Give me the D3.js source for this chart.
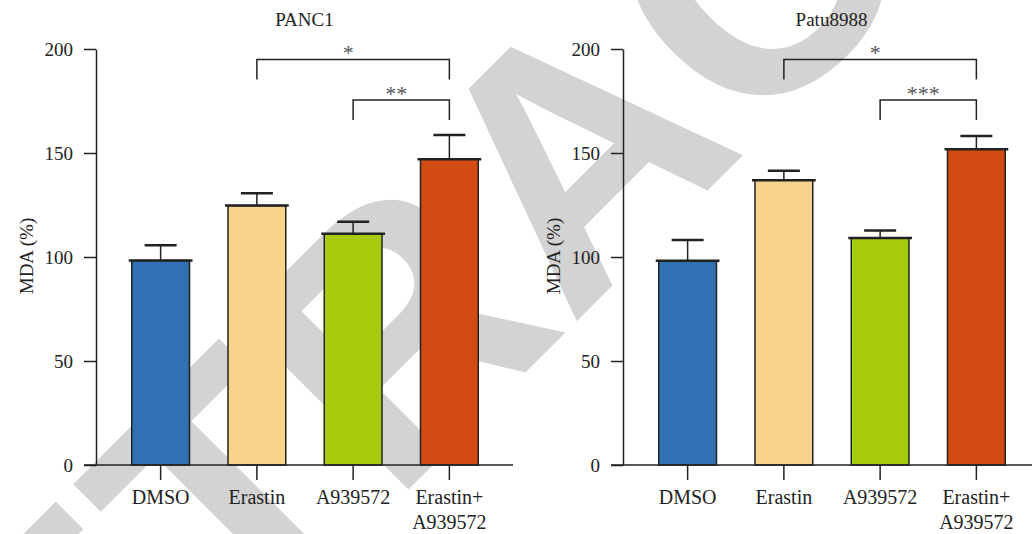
<!DOCTYPE html>
<html>
<head>
<meta charset="utf-8">
<script src="https://cdn.jsdelivr.net/npm/d3@7"></script>
<style>
  body { margin: 0; background: #fff; }
</style>
</head>
<body>
<div id="container"></div>
<script>
// group labels (second line for the combo group)
var categories = [["DMSO"], ["Erastin"], ["A939572"], ["Erastin+", "A939572"]];
var barColors = ["#3071b4", "#f8d38b", "#a6cb0d", "#d34b12"];
var yTicks = [0, 50, 100, 150, 200];

var panc1Mean = [98.3, 124.7, 111.2, 147.0];
var panc1Err = [7.3, 5.9, 5.7, 11.7];
var patuMean = [98.2, 136.9, 109.1, 151.8];
var patuErr = [10.0, 4.6, 3.7, 6.4];

// brackets: from group, to group, height (MDA units), label
var panc1Sig = [[1, 3, 195, "*"], [2, 3, 175.5, "**"]];
var patuSig = [[1, 3, 195, "*"], [2, 3, 175.5, "***"]];

var panels = [
  { title: "PANC1", mean: panc1Mean, err: panc1Err, sig: panc1Sig, x0: 96 },
  { title: "Patu8988", mean: patuMean, err: patuErr, sig: patuSig, x0: 623 }
];

var width = 1032, height = 534;
var ink = "#222";
var serif = "'Liberation Serif', 'DejaVu Serif', serif";

var svg = d3.select("#container").append("svg")
  .attr("width", width)
  .attr("height", height);

// watermark sits behind everything
svg.append("text")
  .attr("transform", "translate(660,238) rotate(-45)")
  .attr("text-anchor", "middle")
  .style("font-family", "'Liberation Sans', Arial, sans-serif")
  .style("font-weight", "bold")
  .style("font-size", "350px")
  .style("fill", "#d3d3d3")
  .text("RETRACTED");

var y = d3.scaleLinear().domain([0, 200]).range([465, 49]);

panels.forEach(function(p) {
  var g = svg.append("g");
  var x = d3.scaleBand()
    .domain(d3.range(categories.length))
    .range([p.x0 + 16.5, p.x0 + 401.5])
    .paddingInner(0.4)
    .paddingOuter(0.2);

  // title
  g.append("text")
    .attr("x", p.x0 + 208.5)
    .attr("y", 26)
    .attr("text-anchor", "middle")
    .style("font-family", serif)
    .style("font-size", "19px")
    .style("fill", ink)
    .text(p.title);

  // y axis
  var yAxis = g.append("g")
    .attr("transform", "translate(" + p.x0 + ",0)")
    .call(d3.axisLeft(y).tickValues(yTicks).tickSize(12).tickSizeOuter(0).tickPadding(11));
  yAxis.select(".domain").attr("stroke", ink).attr("stroke-width", 1.5);
  yAxis.selectAll(".tick line").attr("stroke", ink).attr("stroke-width", 1.5);
  yAxis.selectAll(".tick text")
    .style("font-size", "19px")
    .style("font-family", serif)
    .attr("fill", ink);

  g.append("text")
    .attr("transform", "translate(" + (p.x0 - 63) + ",256) rotate(-90)")
    .attr("text-anchor", "middle")
    .style("font-family", serif)
    .style("font-size", "19px")
    .style("fill", ink)
    .text("MDA (%)");

  // bars
  var bars = g.selectAll(".bar").data(p.mean).enter().append("g");
  bars.append("rect")
    .attr("x", function(d, i) { return x(i); })
    .attr("y", function(d) { return y(d); })
    .attr("width", x.bandwidth())
    .attr("height", function(d) { return y(0) - y(d); })
    .attr("fill", function(d, i) { return barColors[i]; })
    .attr("stroke", ink)
    .attr("stroke-width", 1.5);
  bars.append("line")
    .attr("x1", function(d, i) { return x(i) - 3; })
    .attr("x2", function(d, i) { return x(i) + x.bandwidth() + 3; })
    .attr("y1", function(d) { return y(d); })
    .attr("y2", function(d) { return y(d); })
    .attr("stroke", ink)
    .attr("stroke-width", 2.5);

  // error bars (upper only)
  bars.append("line")
    .attr("x1", function(d, i) { return x(i) + x.bandwidth() / 2; })
    .attr("x2", function(d, i) { return x(i) + x.bandwidth() / 2; })
    .attr("y1", function(d) { return y(d); })
    .attr("y2", function(d, i) { return y(d + p.err[i]); })
    .attr("stroke", ink)
    .attr("stroke-width", 1.5);
  bars.append("line")
    .attr("x1", function(d, i) { return x(i) + x.bandwidth() / 2 - 16; })
    .attr("x2", function(d, i) { return x(i) + x.bandwidth() / 2 + 16; })
    .attr("y1", function(d, i) { return y(d + p.err[i]); })
    .attr("y2", function(d, i) { return y(d + p.err[i]); })
    .attr("stroke", ink)
    .attr("stroke-width", 2.5);

  // x axis
  g.append("line")
    .attr("x1", p.x0 - 12).attr("x2", p.x0 + 417)
    .attr("y1", y(0)).attr("y2", y(0))
    .attr("stroke", ink).attr("stroke-width", 1.5);
  var xAxis = g.append("g")
    .attr("transform", "translate(0," + y(0) + ")")
    .call(d3.axisBottom(x).tickSize(15).tickSizeOuter(0).tickFormat(""));
  xAxis.select(".domain").remove();
  xAxis.selectAll(".tick line").attr("stroke", ink).attr("stroke-width", 1.5);

  categories.forEach(function(lines, i) {
    var t = g.append("text")
      .attr("text-anchor", "middle")
      .style("font-family", serif)
      .style("font-size", "20px")
      .style("fill", ink);
    lines.forEach(function(s, j) {
      t.append("tspan")
        .attr("x", x(i) + x.bandwidth() / 2)
        .attr("y", 504 + j * 25)
        .text(s);
    });
  });

  // significance brackets
  p.sig.forEach(function(s) {
    var xa = x(s[0]) + x.bandwidth() / 2, xb = x(s[1]) + x.bandwidth() / 2, yy = y(s[2]);
    g.append("path")
      .attr("d", "M" + xa + "," + (yy + 20) + "V" + yy + "H" + xb + "V" + (yy + 20))
      .attr("fill", "none")
      .attr("stroke", ink)
      .attr("stroke-width", 1.5);
    g.append("text")
      .attr("x", (xa + xb) / 2 - 5)
      .attr("y", yy + 1)
      .attr("text-anchor", "middle")
      .style("font-family", serif)
      .style("font-size", "22px")
      .style("fill", "#555")
      .text(s[3]);
  });
});
</script>
</body>
</html>
